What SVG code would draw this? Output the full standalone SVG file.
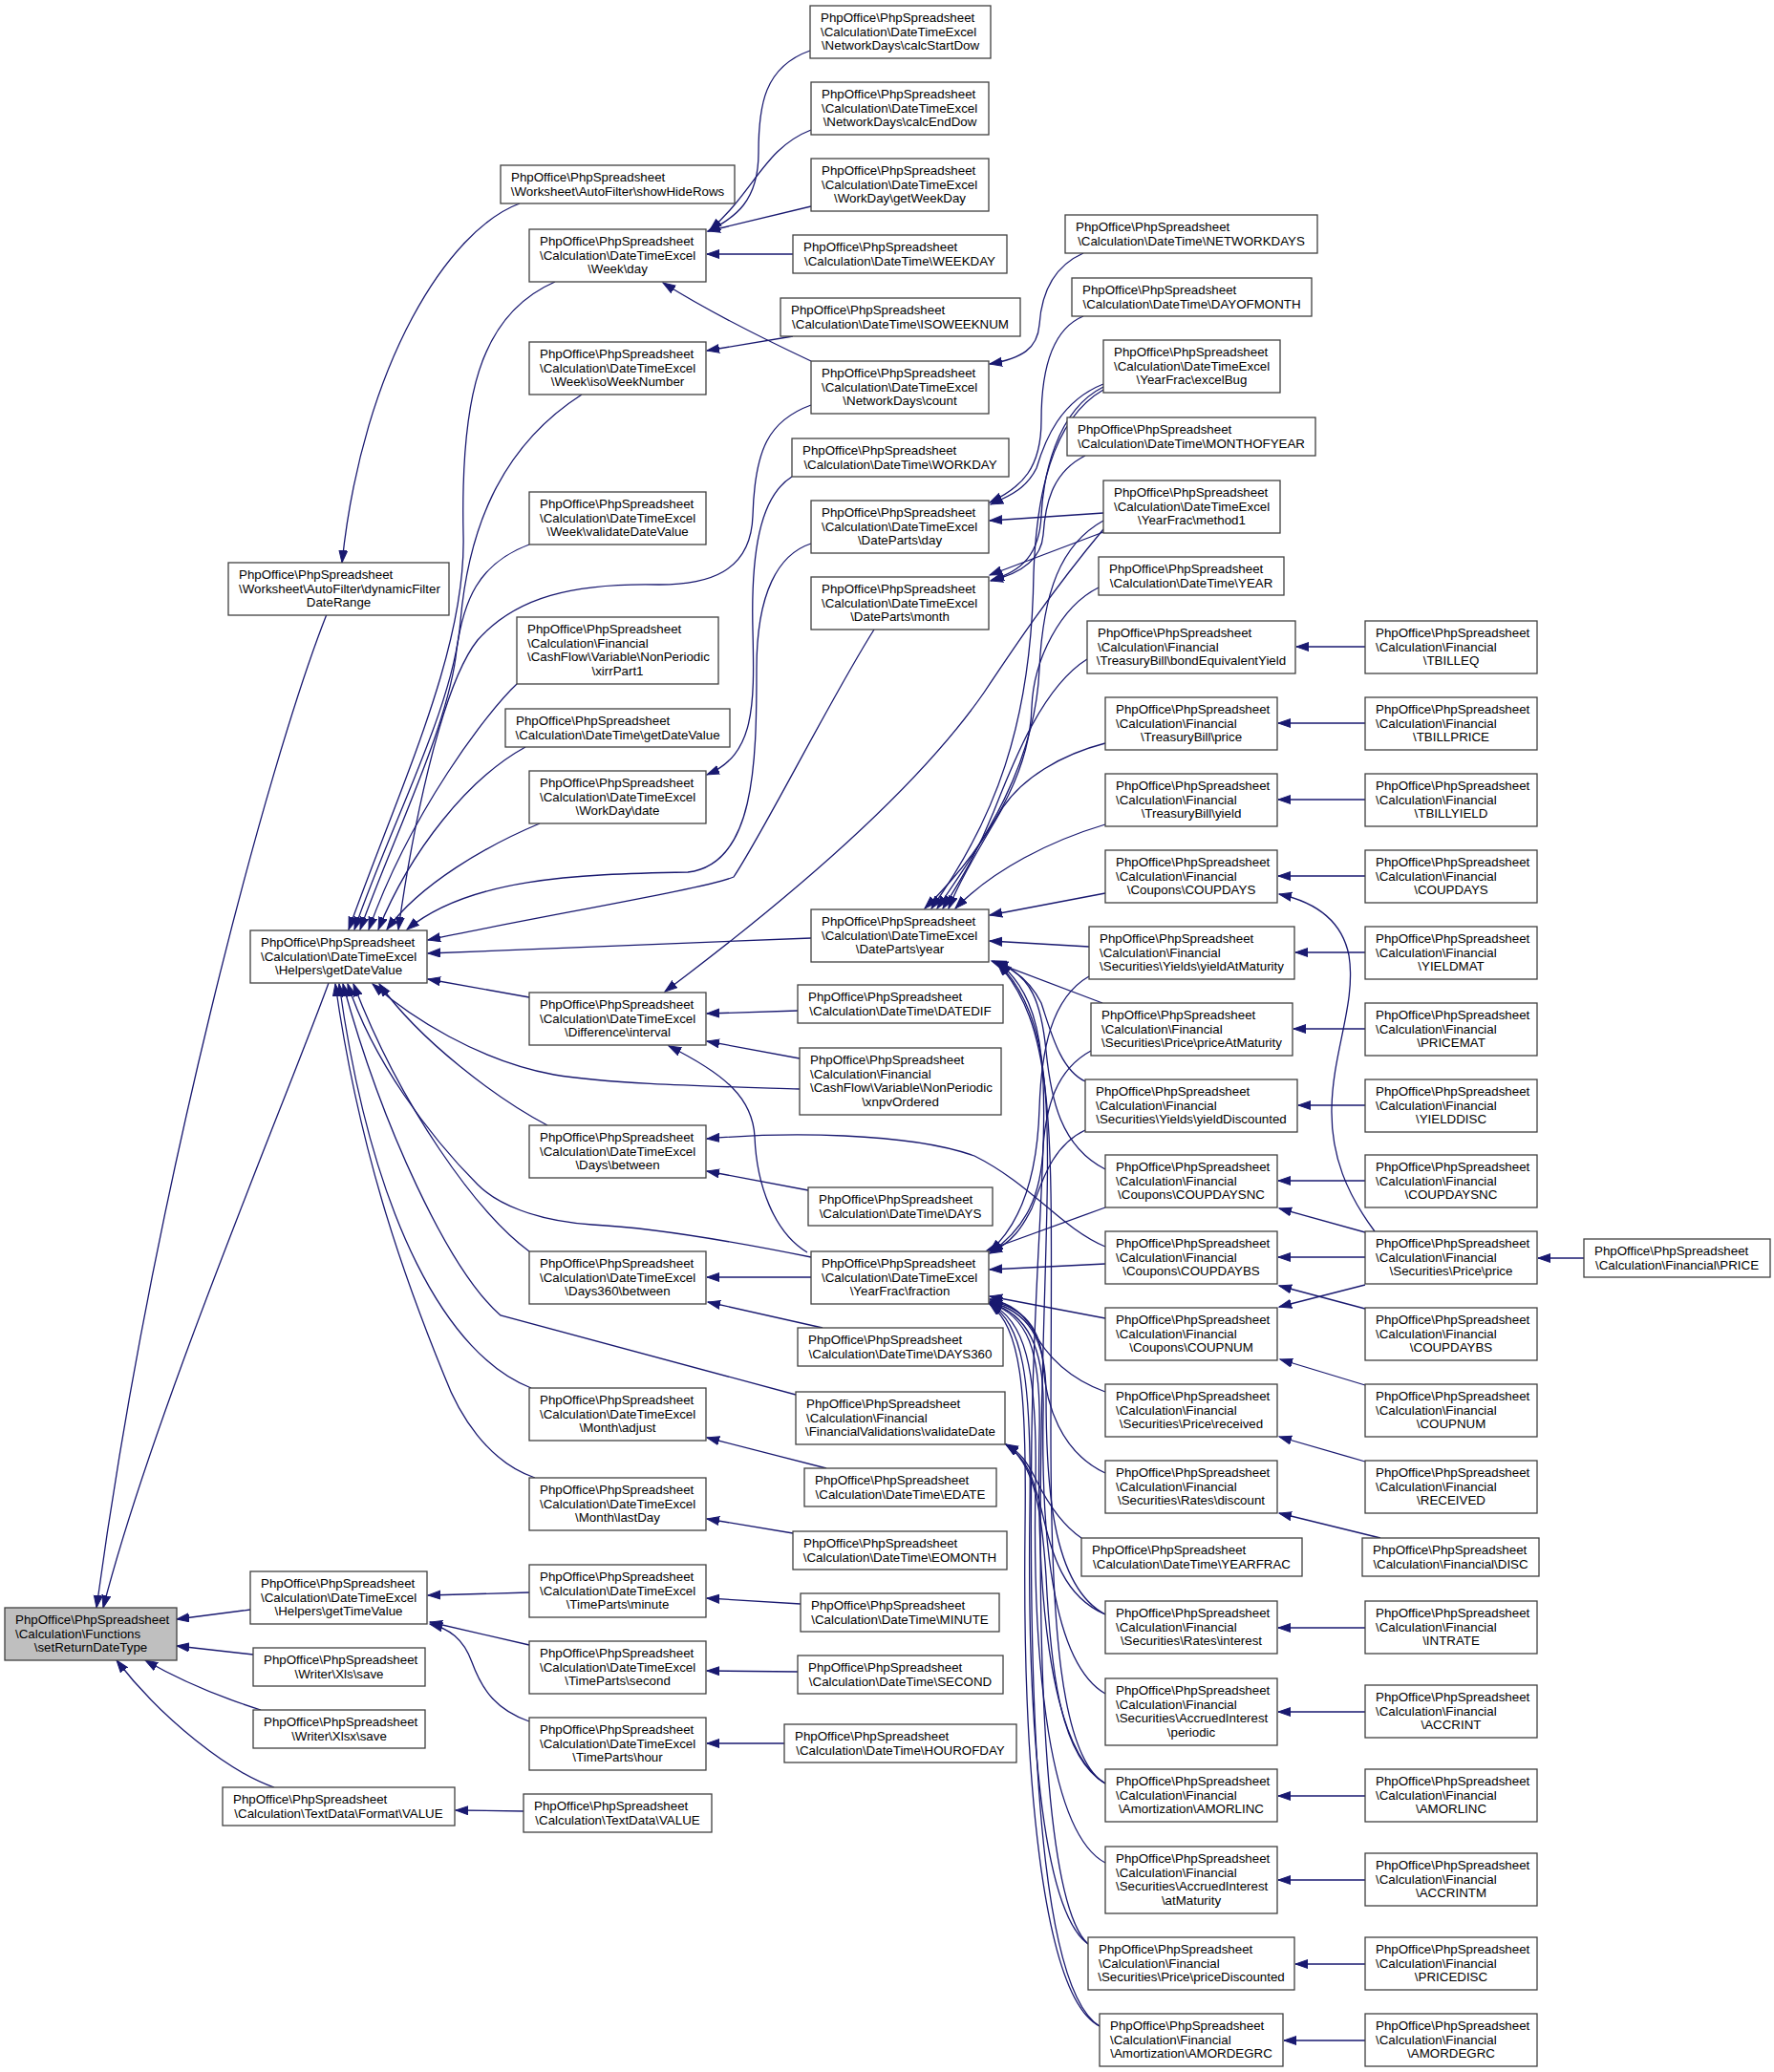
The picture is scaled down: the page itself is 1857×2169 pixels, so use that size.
<svg xmlns="http://www.w3.org/2000/svg" width="1857" height="2169" viewBox="0 0 1857 2169">
<style>
.node rect{fill:#fff;stroke:#404040;stroke-width:1.3}
.root rect{fill:#bfbfbf}
text{font-family:"Liberation Sans",Arial,Helvetica,sans-serif;font-size:13.33px;fill:#000}
.c{text-anchor:middle}
.edges path{fill:none;stroke:#191970;stroke-width:1.3;marker-end:url(#a)}
</style>
<defs>
<marker id="a" markerUnits="userSpaceOnUse" markerWidth="15" markerHeight="11" refX="13" refY="5" orient="auto">
<path d="M0,0.5 L13,5 L0,9.5 z" fill="#191970" stroke="#191970" stroke-width="1"/>
</marker>
</defs>
<rect width="1857" height="2169" fill="#fff"/>
<g class="edges">
<path d="M342,643 C280,800 160,1250 101,1683"/>
<path d="M344,1029 C300,1150 160,1480 108,1683"/>
<path d="M262,1685 L185,1695"/>
<path d="M265,1732 L185,1723"/>
<path d="M273,1790 C235,1778 190,1760 152,1738"/>
<path d="M287,1871 C240,1855 170,1800 122,1738"/>
<path d="M544,213 C470,240 380,380 358,589"/>
<path d="M581,295 C500,330 482,420 485,560 C488,680 420,820 365,973"/>
<path d="M609,413 C520,470 490,560 482,650 C475,740 410,860 371,973"/>
<path d="M554,570 C500,590 485,630 478,680 C470,760 410,880 377,973"/>
<path d="M541,716 C510,745 430,850 386,973"/>
<path d="M550,782 C490,815 430,890 396,973"/>
<path d="M565,862 C510,885 440,925 405,973"/>
<path d="M849,424 C805,440 790,470 788,540 C786,600 740,612 690,612 C600,610 540,625 500,670 C460,720 430,880 417,973"/>
<path d="M829,499 C795,520 786,580 788,660 C790,740 790,790 740,811"/>
<path d="M849,569 C815,580 792,620 792,700 C792,800 790,905 720,913 C600,915 490,920 426,973"/>
<path d="M915,659 C870,730 800,870 768,918 C740,930 560,960 448,984"/>
<path d="M849,982 C700,988 560,993 448,998"/>
<path d="M554,1044 L448,1025"/>
<path d="M837,1140 C740,1137 640,1135 580,1125 C500,1110 430,1065 390,1030"/>
<path d="M573,1178 C520,1150 440,1090 397,1030"/>
<path d="M554,1310 C500,1270 420,1160 370,1030"/>
<path d="M849,1316 C760,1298 680,1285 620,1282 C560,1278 520,1260 500,1240 C450,1190 390,1110 364,1030"/>
<path d="M833,1460 L524,1377 C470,1330 400,1180 359,1030"/>
<path d="M556,1453 C470,1420 390,1280 355,1030"/>
<path d="M560,1547 C510,1530 480,1480 465,1440 C420,1330 375,1200 351,1030"/>
<path d="M848,53 C800,70 794,110 794,160 C794,210 770,228 741,242"/>
<path d="M849,136 C800,155 790,200 743,241"/>
<path d="M849,216 L741,242"/>
<path d="M830,266 L740,266"/>
<path d="M849,378 C800,355 740,325 694,296"/>
<path d="M830,352 L740,367"/>
<path d="M1134,265 C1100,280 1090,310 1088,340 C1086,365 1070,375 1036,381"/>
<path d="M1134,331 C1100,345 1090,390 1090,440 C1090,490 1070,510 1036,526"/>
<path d="M1155,402 C1110,420 1094,460 1085,490 C1075,510 1060,518 1037,528"/>
<path d="M1155,537 L1036,545"/>
<path d="M1136,477 C1100,495 1094,530 1092,560 C1090,585 1070,600 1037,608"/>
<path d="M1155,405 C1105,430 1092,500 1090,540 C1088,580 1070,598 1038,607"/>
<path d="M1155,557 L1036,602"/>
<path d="M1150,615 C1110,635 1082,690 1080,740 C1078,820 1020,900 968,951"/>
<path d="M1155,408 C1100,440 1085,520 1082,600 C1080,760 1040,860 975,951"/>
<path d="M1155,545 C1110,570 1092,620 1088,700 C1084,800 1030,880 981,951"/>
<path d="M1155,554 C1100,620 1060,680 1030,725 C950,840 800,960 696,1038"/>
<path d="M1138,690 C1090,720 1060,800 1040,850 C1020,900 1000,930 987,951"/>
<path d="M1157,778 C1110,790 1070,815 1050,845 C1030,880 1005,920 993,951"/>
<path d="M1157,863 C1100,880 1040,910 1000,951"/>
<path d="M1157,935 L1036,958"/>
<path d="M1140,991 L1036,985"/>
<path d="M1154,1050 L1038,1006"/>
<path d="M1136,1132 C1110,1120 1100,1080 1090,1050 C1080,1030 1065,1015 1040,1006"/>
<path d="M1157,1224 C1110,1200 1100,1150 1095,1100 C1090,1050 1080,1020 1042,1007"/>
<path d="M1157,1867 C1110,1840 1100,1700 1100,1500 C1100,1200 1110,1080 1044,1008"/>
<path d="M1139,2035 C1100,2000 1085,1800 1090,1500 C1095,1200 1115,1080 1045,1008"/>
<path d="M1151,2121 C1100,2090 1075,1900 1080,1500 C1085,1200 1120,1070 1046,1008"/>
<path d="M1140,1022 C1100,1045 1090,1100 1088,1160 C1086,1230 1070,1280 1036,1310"/>
<path d="M1142,1100 C1105,1120 1095,1160 1092,1200 C1090,1250 1075,1285 1037,1311"/>
<path d="M1136,1183 C1100,1200 1090,1240 1080,1265 C1070,1285 1060,1300 1036,1312"/>
<path d="M1157,1264 L1033,1309"/>
<path d="M1157,1323 L1036,1329"/>
<path d="M1157,1380 L1036,1357"/>
<path d="M1157,1457 C1110,1440 1090,1410 1080,1390 C1070,1375 1060,1365 1036,1360"/>
<path d="M1157,1542 C1110,1520 1095,1470 1092,1430 C1090,1390 1070,1368 1036,1362"/>
<path d="M1157,1690 C1100,1660 1095,1550 1095,1460 C1095,1400 1075,1372 1036,1363"/>
<path d="M1157,1773 C1100,1740 1090,1600 1092,1480 C1094,1410 1075,1375 1036,1364"/>
<path d="M1157,1867 C1095,1830 1085,1650 1088,1500 C1090,1410 1075,1378 1036,1364"/>
<path d="M1157,1950 C1100,1920 1080,1750 1084,1550 C1086,1430 1072,1380 1036,1365"/>
<path d="M1139,2035 C1090,2000 1075,1800 1078,1580 C1080,1440 1070,1385 1036,1365"/>
<path d="M1151,2121 C1090,2090 1070,1850 1073,1600 C1075,1450 1068,1390 1036,1365"/>
<path d="M1132,1610 C1110,1595 1095,1570 1085,1550 C1075,1530 1068,1520 1053,1512"/>
<path d="M1157,1690 C1110,1670 1100,1620 1090,1580 C1080,1540 1072,1525 1053,1512"/>
<path d="M1157,1867 C1110,1840 1100,1750 1095,1650 C1090,1570 1080,1530 1053,1512"/>
<path d="M835,1058 L740,1061"/>
<path d="M837,1108 L740,1090"/>
<path d="M845,1311 C810,1290 792,1240 790,1190 C788,1150 760,1125 700,1095"/>
<path d="M846,1246 L740,1226"/>
<path d="M1157,1305 C1110,1285 1080,1240 1020,1210 C950,1185 820,1185 740,1192"/>
<path d="M849,1337 L740,1337"/>
<path d="M861,1390 L741,1363"/>
<path d="M865,1537 L740,1505"/>
<path d="M830,1605 L740,1590"/>
<path d="M838,1679 L740,1673"/>
<path d="M835,1750 L740,1749"/>
<path d="M821,1825 L740,1825"/>
<path d="M554,1667 L448,1670"/>
<path d="M554,1722 L450,1698"/>
<path d="M554,1802 C520,1790 505,1770 494,1740 C485,1715 470,1705 450,1700"/>
<path d="M548,1896 L477,1895"/>
<path d="M1429,677 L1357,677"/>
<path d="M1429,757 L1338,757"/>
<path d="M1429,837 L1338,837"/>
<path d="M1429,917 L1338,917"/>
<path d="M1429,997 L1356,997"/>
<path d="M1429,1077 L1354,1077"/>
<path d="M1429,1157 L1359,1157"/>
<path d="M1429,1236 L1338,1236"/>
<path d="M1429,1316 L1338,1316"/>
<path d="M1429,1370 L1339,1346"/>
<path d="M1429,1345 L1339,1368"/>
<path d="M1429,1290 L1339,1265"/>
<path d="M1439,1289 C1410,1250 1393,1210 1394,1160 C1395,1100 1420,1050 1412,1000 C1405,965 1380,945 1339,936"/>
<path d="M1429,1450 L1340,1423"/>
<path d="M1429,1530 L1339,1504"/>
<path d="M1445,1610 L1339,1584"/>
<path d="M1429,1704 L1338,1704"/>
<path d="M1429,1792 L1338,1792"/>
<path d="M1429,1880 L1338,1880"/>
<path d="M1429,1968 L1338,1968"/>
<path d="M1429,2056 L1356,2056"/>
<path d="M1429,2136 L1344,2136"/>
<path d="M1658,1317 L1610,1317"/>
</g>
<g id="n0" class="node root" transform="translate(5,1683)"><rect width="180" height="55"/><text x="11" y="17">PhpOffice\PhpSpreadsheet</text><text x="11" y="31.7">\Calculation\Functions</text><text class="c" x="90" y="46.3">\setReturnDateType</text></g>
<g id="n1" class="node" transform="translate(239,589)"><rect width="231" height="55"/><text x="11" y="17">PhpOffice\PhpSpreadsheet</text><text x="11" y="31.7">\Worksheet\AutoFilter\dynamicFilter</text><text class="c" x="115.5" y="46.3">DateRange</text></g>
<g id="n2" class="node" transform="translate(262,974)"><rect width="185" height="55"/><text x="11" y="17">PhpOffice\PhpSpreadsheet</text><text x="11" y="31.7">\Calculation\DateTimeExcel</text><text class="c" x="92.5" y="46.3">\Helpers\getDateValue</text></g>
<g id="n3" class="node" transform="translate(262,1645)"><rect width="185" height="55"/><text x="11" y="17">PhpOffice\PhpSpreadsheet</text><text x="11" y="31.7">\Calculation\DateTimeExcel</text><text class="c" x="92.5" y="46.3">\Helpers\getTimeValue</text></g>
<g id="n4" class="node" transform="translate(265,1725)"><rect width="180" height="40"/><text x="11" y="17">PhpOffice\PhpSpreadsheet</text><text class="c" x="90" y="31.7">\Writer\Xls\save</text></g>
<g id="n5" class="node" transform="translate(265,1790)"><rect width="180" height="40"/><text x="11" y="17">PhpOffice\PhpSpreadsheet</text><text class="c" x="90" y="31.7">\Writer\Xlsx\save</text></g>
<g id="n6" class="node" transform="translate(233,1871)"><rect width="243" height="40"/><text x="11" y="17">PhpOffice\PhpSpreadsheet</text><text class="c" x="121.5" y="31.7">\Calculation\TextData\Format\VALUE</text></g>
<g id="n7" class="node" transform="translate(524,173)"><rect width="245" height="40"/><text x="11" y="17">PhpOffice\PhpSpreadsheet</text><text class="c" x="122.5" y="31.7">\Worksheet\AutoFilter\showHideRows</text></g>
<g id="n8" class="node" transform="translate(554,240)"><rect width="185" height="55"/><text x="11" y="17">PhpOffice\PhpSpreadsheet</text><text x="11" y="31.7">\Calculation\DateTimeExcel</text><text class="c" x="92.5" y="46.3">\Week\day</text></g>
<g id="n9" class="node" transform="translate(554,358)"><rect width="185" height="55"/><text x="11" y="17">PhpOffice\PhpSpreadsheet</text><text x="11" y="31.7">\Calculation\DateTimeExcel</text><text class="c" x="92.5" y="46.3">\Week\isoWeekNumber</text></g>
<g id="n10" class="node" transform="translate(554,515)"><rect width="185" height="55"/><text x="11" y="17">PhpOffice\PhpSpreadsheet</text><text x="11" y="31.7">\Calculation\DateTimeExcel</text><text class="c" x="92.5" y="46.3">\Week\validateDateValue</text></g>
<g id="n11" class="node" transform="translate(541,646)"><rect width="211" height="70"/><text x="11" y="17">PhpOffice\PhpSpreadsheet</text><text x="11" y="31.7">\Calculation\Financial</text><text x="11" y="46.3">\CashFlow\Variable\NonPeriodic</text><text class="c" x="105.5" y="61">\xirrPart1</text></g>
<g id="n12" class="node" transform="translate(529,742)"><rect width="235" height="40"/><text x="11" y="17">PhpOffice\PhpSpreadsheet</text><text class="c" x="117.5" y="31.7">\Calculation\DateTime\getDateValue</text></g>
<g id="n13" class="node" transform="translate(554,807)"><rect width="185" height="55"/><text x="11" y="17">PhpOffice\PhpSpreadsheet</text><text x="11" y="31.7">\Calculation\DateTimeExcel</text><text class="c" x="92.5" y="46.3">\WorkDay\date</text></g>
<g id="n14" class="node" transform="translate(554,1039)"><rect width="185" height="55"/><text x="11" y="17">PhpOffice\PhpSpreadsheet</text><text x="11" y="31.7">\Calculation\DateTimeExcel</text><text class="c" x="92.5" y="46.3">\Difference\interval</text></g>
<g id="n15" class="node" transform="translate(554,1178)"><rect width="185" height="55"/><text x="11" y="17">PhpOffice\PhpSpreadsheet</text><text x="11" y="31.7">\Calculation\DateTimeExcel</text><text class="c" x="92.5" y="46.3">\Days\between</text></g>
<g id="n16" class="node" transform="translate(554,1310)"><rect width="185" height="55"/><text x="11" y="17">PhpOffice\PhpSpreadsheet</text><text x="11" y="31.7">\Calculation\DateTimeExcel</text><text class="c" x="92.5" y="46.3">\Days360\between</text></g>
<g id="n17" class="node" transform="translate(554,1453)"><rect width="185" height="55"/><text x="11" y="17">PhpOffice\PhpSpreadsheet</text><text x="11" y="31.7">\Calculation\DateTimeExcel</text><text class="c" x="92.5" y="46.3">\Month\adjust</text></g>
<g id="n18" class="node" transform="translate(554,1547)"><rect width="185" height="55"/><text x="11" y="17">PhpOffice\PhpSpreadsheet</text><text x="11" y="31.7">\Calculation\DateTimeExcel</text><text class="c" x="92.5" y="46.3">\Month\lastDay</text></g>
<g id="n19" class="node" transform="translate(554,1638)"><rect width="185" height="55"/><text x="11" y="17">PhpOffice\PhpSpreadsheet</text><text x="11" y="31.7">\Calculation\DateTimeExcel</text><text class="c" x="92.5" y="46.3">\TimeParts\minute</text></g>
<g id="n20" class="node" transform="translate(554,1718)"><rect width="185" height="55"/><text x="11" y="17">PhpOffice\PhpSpreadsheet</text><text x="11" y="31.7">\Calculation\DateTimeExcel</text><text class="c" x="92.5" y="46.3">\TimeParts\second</text></g>
<g id="n21" class="node" transform="translate(554,1798)"><rect width="185" height="55"/><text x="11" y="17">PhpOffice\PhpSpreadsheet</text><text x="11" y="31.7">\Calculation\DateTimeExcel</text><text class="c" x="92.5" y="46.3">\TimeParts\hour</text></g>
<g id="n22" class="node" transform="translate(548,1878)"><rect width="197" height="40"/><text x="11" y="17">PhpOffice\PhpSpreadsheet</text><text class="c" x="98.5" y="31.7">\Calculation\TextData\VALUE</text></g>
<g id="n23" class="node" transform="translate(848,6)"><rect width="189" height="55"/><text x="11" y="17">PhpOffice\PhpSpreadsheet</text><text x="11" y="31.7">\Calculation\DateTimeExcel</text><text class="c" x="94.5" y="46.3">\NetworkDays\calcStartDow</text></g>
<g id="n24" class="node" transform="translate(849,86)"><rect width="186" height="55"/><text x="11" y="17">PhpOffice\PhpSpreadsheet</text><text x="11" y="31.7">\Calculation\DateTimeExcel</text><text class="c" x="93" y="46.3">\NetworkDays\calcEndDow</text></g>
<g id="n25" class="node" transform="translate(849,166)"><rect width="186" height="55"/><text x="11" y="17">PhpOffice\PhpSpreadsheet</text><text x="11" y="31.7">\Calculation\DateTimeExcel</text><text class="c" x="93" y="46.3">\WorkDay\getWeekDay</text></g>
<g id="n26" class="node" transform="translate(830,246)"><rect width="224" height="40"/><text x="11" y="17">PhpOffice\PhpSpreadsheet</text><text class="c" x="112" y="31.7">\Calculation\DateTime\WEEKDAY</text></g>
<g id="n27" class="node" transform="translate(817,312)"><rect width="251" height="40"/><text x="11" y="17">PhpOffice\PhpSpreadsheet</text><text class="c" x="125.5" y="31.7">\Calculation\DateTime\ISOWEEKNUM</text></g>
<g id="n28" class="node" transform="translate(849,378)"><rect width="186" height="55"/><text x="11" y="17">PhpOffice\PhpSpreadsheet</text><text x="11" y="31.7">\Calculation\DateTimeExcel</text><text class="c" x="93" y="46.3">\NetworkDays\count</text></g>
<g id="n29" class="node" transform="translate(829,459)"><rect width="227" height="40"/><text x="11" y="17">PhpOffice\PhpSpreadsheet</text><text class="c" x="113.5" y="31.7">\Calculation\DateTime\WORKDAY</text></g>
<g id="n30" class="node" transform="translate(849,524)"><rect width="186" height="55"/><text x="11" y="17">PhpOffice\PhpSpreadsheet</text><text x="11" y="31.7">\Calculation\DateTimeExcel</text><text class="c" x="93" y="46.3">\DateParts\day</text></g>
<g id="n31" class="node" transform="translate(849,604)"><rect width="186" height="55"/><text x="11" y="17">PhpOffice\PhpSpreadsheet</text><text x="11" y="31.7">\Calculation\DateTimeExcel</text><text class="c" x="93" y="46.3">\DateParts\month</text></g>
<g id="n32" class="node" transform="translate(849,952)"><rect width="186" height="55"/><text x="11" y="17">PhpOffice\PhpSpreadsheet</text><text x="11" y="31.7">\Calculation\DateTimeExcel</text><text class="c" x="93" y="46.3">\DateParts\year</text></g>
<g id="n33" class="node" transform="translate(835,1031)"><rect width="215" height="40"/><text x="11" y="17">PhpOffice\PhpSpreadsheet</text><text class="c" x="107.5" y="31.7">\Calculation\DateTime\DATEDIF</text></g>
<g id="n34" class="node" transform="translate(837,1097)"><rect width="211" height="70"/><text x="11" y="17">PhpOffice\PhpSpreadsheet</text><text x="11" y="31.7">\Calculation\Financial</text><text x="11" y="46.3">\CashFlow\Variable\NonPeriodic</text><text class="c" x="105.5" y="61">\xnpvOrdered</text></g>
<g id="n35" class="node" transform="translate(846,1243)"><rect width="193" height="40"/><text x="11" y="17">PhpOffice\PhpSpreadsheet</text><text class="c" x="96.5" y="31.7">\Calculation\DateTime\DAYS</text></g>
<g id="n36" class="node" transform="translate(849,1310)"><rect width="186" height="55"/><text x="11" y="17">PhpOffice\PhpSpreadsheet</text><text x="11" y="31.7">\Calculation\DateTimeExcel</text><text class="c" x="93" y="46.3">\YearFrac\fraction</text></g>
<g id="n37" class="node" transform="translate(835,1390)"><rect width="215" height="40"/><text x="11" y="17">PhpOffice\PhpSpreadsheet</text><text class="c" x="107.5" y="31.7">\Calculation\DateTime\DAYS360</text></g>
<g id="n38" class="node" transform="translate(833,1457)"><rect width="219" height="55"/><text x="11" y="17">PhpOffice\PhpSpreadsheet</text><text x="11" y="31.7">\Calculation\Financial</text><text class="c" x="109.5" y="46.3">\FinancialValidations\validateDate</text></g>
<g id="n39" class="node" transform="translate(842,1537)"><rect width="201" height="40"/><text x="11" y="17">PhpOffice\PhpSpreadsheet</text><text class="c" x="100.5" y="31.7">\Calculation\DateTime\EDATE</text></g>
<g id="n40" class="node" transform="translate(830,1603)"><rect width="224" height="40"/><text x="11" y="17">PhpOffice\PhpSpreadsheet</text><text class="c" x="112" y="31.7">\Calculation\DateTime\EOMONTH</text></g>
<g id="n41" class="node" transform="translate(838,1668)"><rect width="208" height="40"/><text x="11" y="17">PhpOffice\PhpSpreadsheet</text><text class="c" x="104" y="31.7">\Calculation\DateTime\MINUTE</text></g>
<g id="n42" class="node" transform="translate(835,1733)"><rect width="215" height="40"/><text x="11" y="17">PhpOffice\PhpSpreadsheet</text><text class="c" x="107.5" y="31.7">\Calculation\DateTime\SECOND</text></g>
<g id="n43" class="node" transform="translate(821,1805)"><rect width="243" height="40"/><text x="11" y="17">PhpOffice\PhpSpreadsheet</text><text class="c" x="121.5" y="31.7">\Calculation\DateTime\HOUROFDAY</text></g>
<g id="n44" class="node" transform="translate(1115,225)"><rect width="264" height="40"/><text x="11" y="17">PhpOffice\PhpSpreadsheet</text><text class="c" x="132" y="31.7">\Calculation\DateTime\NETWORKDAYS</text></g>
<g id="n45" class="node" transform="translate(1122,291)"><rect width="251" height="40"/><text x="11" y="17">PhpOffice\PhpSpreadsheet</text><text class="c" x="125.5" y="31.7">\Calculation\DateTime\DAYOFMONTH</text></g>
<g id="n46" class="node" transform="translate(1155,356)"><rect width="185" height="55"/><text x="11" y="17">PhpOffice\PhpSpreadsheet</text><text x="11" y="31.7">\Calculation\DateTimeExcel</text><text class="c" x="92.5" y="46.3">\YearFrac\excelBug</text></g>
<g id="n47" class="node" transform="translate(1117,437)"><rect width="260" height="40"/><text x="11" y="17">PhpOffice\PhpSpreadsheet</text><text class="c" x="130" y="31.7">\Calculation\DateTime\MONTHOFYEAR</text></g>
<g id="n48" class="node" transform="translate(1155,503)"><rect width="185" height="55"/><text x="11" y="17">PhpOffice\PhpSpreadsheet</text><text x="11" y="31.7">\Calculation\DateTimeExcel</text><text class="c" x="92.5" y="46.3">\YearFrac\method1</text></g>
<g id="n49" class="node" transform="translate(1150,583)"><rect width="194" height="40"/><text x="11" y="17">PhpOffice\PhpSpreadsheet</text><text class="c" x="97" y="31.7">\Calculation\DateTime\YEAR</text></g>
<g id="n50" class="node" transform="translate(1138,650)"><rect width="218" height="55"/><text x="11" y="17">PhpOffice\PhpSpreadsheet</text><text x="11" y="31.7">\Calculation\Financial</text><text class="c" x="109" y="46.3">\TreasuryBill\bondEquivalentYield</text></g>
<g id="n51" class="node" transform="translate(1157,730)"><rect width="180" height="55"/><text x="11" y="17">PhpOffice\PhpSpreadsheet</text><text x="11" y="31.7">\Calculation\Financial</text><text class="c" x="90" y="46.3">\TreasuryBill\price</text></g>
<g id="n52" class="node" transform="translate(1157,810)"><rect width="180" height="55"/><text x="11" y="17">PhpOffice\PhpSpreadsheet</text><text x="11" y="31.7">\Calculation\Financial</text><text class="c" x="90" y="46.3">\TreasuryBill\yield</text></g>
<g id="n53" class="node" transform="translate(1157,890)"><rect width="180" height="55"/><text x="11" y="17">PhpOffice\PhpSpreadsheet</text><text x="11" y="31.7">\Calculation\Financial</text><text class="c" x="90" y="46.3">\Coupons\COUPDAYS</text></g>
<g id="n54" class="node" transform="translate(1140,970)"><rect width="215" height="55"/><text x="11" y="17">PhpOffice\PhpSpreadsheet</text><text x="11" y="31.7">\Calculation\Financial</text><text class="c" x="107.5" y="46.3">\Securities\Yields\yieldAtMaturity</text></g>
<g id="n55" class="node" transform="translate(1142,1050)"><rect width="211" height="55"/><text x="11" y="17">PhpOffice\PhpSpreadsheet</text><text x="11" y="31.7">\Calculation\Financial</text><text class="c" x="105.5" y="46.3">\Securities\Price\priceAtMaturity</text></g>
<g id="n56" class="node" transform="translate(1136,1130)"><rect width="222" height="55"/><text x="11" y="17">PhpOffice\PhpSpreadsheet</text><text x="11" y="31.7">\Calculation\Financial</text><text class="c" x="111" y="46.3">\Securities\Yields\yieldDiscounted</text></g>
<g id="n57" class="node" transform="translate(1157,1209)"><rect width="180" height="55"/><text x="11" y="17">PhpOffice\PhpSpreadsheet</text><text x="11" y="31.7">\Calculation\Financial</text><text class="c" x="90" y="46.3">\Coupons\COUPDAYSNC</text></g>
<g id="n58" class="node" transform="translate(1157,1289)"><rect width="180" height="55"/><text x="11" y="17">PhpOffice\PhpSpreadsheet</text><text x="11" y="31.7">\Calculation\Financial</text><text class="c" x="90" y="46.3">\Coupons\COUPDAYBS</text></g>
<g id="n59" class="node" transform="translate(1157,1369)"><rect width="180" height="55"/><text x="11" y="17">PhpOffice\PhpSpreadsheet</text><text x="11" y="31.7">\Calculation\Financial</text><text class="c" x="90" y="46.3">\Coupons\COUPNUM</text></g>
<g id="n60" class="node" transform="translate(1157,1449)"><rect width="180" height="55"/><text x="11" y="17">PhpOffice\PhpSpreadsheet</text><text x="11" y="31.7">\Calculation\Financial</text><text class="c" x="90" y="46.3">\Securities\Price\received</text></g>
<g id="n61" class="node" transform="translate(1157,1529)"><rect width="180" height="55"/><text x="11" y="17">PhpOffice\PhpSpreadsheet</text><text x="11" y="31.7">\Calculation\Financial</text><text class="c" x="90" y="46.3">\Securities\Rates\discount</text></g>
<g id="n62" class="node" transform="translate(1132,1610)"><rect width="231" height="40"/><text x="11" y="17">PhpOffice\PhpSpreadsheet</text><text class="c" x="115.5" y="31.7">\Calculation\DateTime\YEARFRAC</text></g>
<g id="n63" class="node" transform="translate(1157,1676)"><rect width="180" height="55"/><text x="11" y="17">PhpOffice\PhpSpreadsheet</text><text x="11" y="31.7">\Calculation\Financial</text><text class="c" x="90" y="46.3">\Securities\Rates\interest</text></g>
<g id="n64" class="node" transform="translate(1157,1757)"><rect width="180" height="70"/><text x="11" y="17">PhpOffice\PhpSpreadsheet</text><text x="11" y="31.7">\Calculation\Financial</text><text x="11" y="46.3">\Securities\AccruedInterest</text><text class="c" x="90" y="61">\periodic</text></g>
<g id="n65" class="node" transform="translate(1157,1852)"><rect width="180" height="55"/><text x="11" y="17">PhpOffice\PhpSpreadsheet</text><text x="11" y="31.7">\Calculation\Financial</text><text class="c" x="90" y="46.3">\Amortization\AMORLINC</text></g>
<g id="n66" class="node" transform="translate(1157,1933)"><rect width="180" height="70"/><text x="11" y="17">PhpOffice\PhpSpreadsheet</text><text x="11" y="31.7">\Calculation\Financial</text><text x="11" y="46.3">\Securities\AccruedInterest</text><text class="c" x="90" y="61">\atMaturity</text></g>
<g id="n67" class="node" transform="translate(1139,2028)"><rect width="216" height="55"/><text x="11" y="17">PhpOffice\PhpSpreadsheet</text><text x="11" y="31.7">\Calculation\Financial</text><text class="c" x="108" y="46.3">\Securities\Price\priceDiscounted</text></g>
<g id="n68" class="node" transform="translate(1151,2108)"><rect width="192" height="55"/><text x="11" y="17">PhpOffice\PhpSpreadsheet</text><text x="11" y="31.7">\Calculation\Financial</text><text class="c" x="96" y="46.3">\Amortization\AMORDEGRC</text></g>
<g id="n69" class="node" transform="translate(1429,650)"><rect width="180" height="55"/><text x="11" y="17">PhpOffice\PhpSpreadsheet</text><text x="11" y="31.7">\Calculation\Financial</text><text class="c" x="90" y="46.3">\TBILLEQ</text></g>
<g id="n70" class="node" transform="translate(1429,730)"><rect width="180" height="55"/><text x="11" y="17">PhpOffice\PhpSpreadsheet</text><text x="11" y="31.7">\Calculation\Financial</text><text class="c" x="90" y="46.3">\TBILLPRICE</text></g>
<g id="n71" class="node" transform="translate(1429,810)"><rect width="180" height="55"/><text x="11" y="17">PhpOffice\PhpSpreadsheet</text><text x="11" y="31.7">\Calculation\Financial</text><text class="c" x="90" y="46.3">\TBILLYIELD</text></g>
<g id="n72" class="node" transform="translate(1429,890)"><rect width="180" height="55"/><text x="11" y="17">PhpOffice\PhpSpreadsheet</text><text x="11" y="31.7">\Calculation\Financial</text><text class="c" x="90" y="46.3">\COUPDAYS</text></g>
<g id="n73" class="node" transform="translate(1429,970)"><rect width="180" height="55"/><text x="11" y="17">PhpOffice\PhpSpreadsheet</text><text x="11" y="31.7">\Calculation\Financial</text><text class="c" x="90" y="46.3">\YIELDMAT</text></g>
<g id="n74" class="node" transform="translate(1429,1050)"><rect width="180" height="55"/><text x="11" y="17">PhpOffice\PhpSpreadsheet</text><text x="11" y="31.7">\Calculation\Financial</text><text class="c" x="90" y="46.3">\PRICEMAT</text></g>
<g id="n75" class="node" transform="translate(1429,1130)"><rect width="180" height="55"/><text x="11" y="17">PhpOffice\PhpSpreadsheet</text><text x="11" y="31.7">\Calculation\Financial</text><text class="c" x="90" y="46.3">\YIELDDISC</text></g>
<g id="n76" class="node" transform="translate(1429,1209)"><rect width="180" height="55"/><text x="11" y="17">PhpOffice\PhpSpreadsheet</text><text x="11" y="31.7">\Calculation\Financial</text><text class="c" x="90" y="46.3">\COUPDAYSNC</text></g>
<g id="n77" class="node" transform="translate(1429,1289)"><rect width="180" height="55"/><text x="11" y="17">PhpOffice\PhpSpreadsheet</text><text x="11" y="31.7">\Calculation\Financial</text><text class="c" x="90" y="46.3">\Securities\Price\price</text></g>
<g id="n78" class="node" transform="translate(1429,1369)"><rect width="180" height="55"/><text x="11" y="17">PhpOffice\PhpSpreadsheet</text><text x="11" y="31.7">\Calculation\Financial</text><text class="c" x="90" y="46.3">\COUPDAYBS</text></g>
<g id="n79" class="node" transform="translate(1429,1449)"><rect width="180" height="55"/><text x="11" y="17">PhpOffice\PhpSpreadsheet</text><text x="11" y="31.7">\Calculation\Financial</text><text class="c" x="90" y="46.3">\COUPNUM</text></g>
<g id="n80" class="node" transform="translate(1429,1529)"><rect width="180" height="55"/><text x="11" y="17">PhpOffice\PhpSpreadsheet</text><text x="11" y="31.7">\Calculation\Financial</text><text class="c" x="90" y="46.3">\RECEIVED</text></g>
<g id="n81" class="node" transform="translate(1426,1610)"><rect width="185" height="40"/><text x="11" y="17">PhpOffice\PhpSpreadsheet</text><text class="c" x="92.5" y="31.7">\Calculation\Financial\DISC</text></g>
<g id="n82" class="node" transform="translate(1429,1676)"><rect width="180" height="55"/><text x="11" y="17">PhpOffice\PhpSpreadsheet</text><text x="11" y="31.7">\Calculation\Financial</text><text class="c" x="90" y="46.3">\INTRATE</text></g>
<g id="n83" class="node" transform="translate(1429,1764)"><rect width="180" height="55"/><text x="11" y="17">PhpOffice\PhpSpreadsheet</text><text x="11" y="31.7">\Calculation\Financial</text><text class="c" x="90" y="46.3">\ACCRINT</text></g>
<g id="n84" class="node" transform="translate(1429,1852)"><rect width="180" height="55"/><text x="11" y="17">PhpOffice\PhpSpreadsheet</text><text x="11" y="31.7">\Calculation\Financial</text><text class="c" x="90" y="46.3">\AMORLINC</text></g>
<g id="n85" class="node" transform="translate(1429,1940)"><rect width="180" height="55"/><text x="11" y="17">PhpOffice\PhpSpreadsheet</text><text x="11" y="31.7">\Calculation\Financial</text><text class="c" x="90" y="46.3">\ACCRINTM</text></g>
<g id="n86" class="node" transform="translate(1429,2028)"><rect width="180" height="55"/><text x="11" y="17">PhpOffice\PhpSpreadsheet</text><text x="11" y="31.7">\Calculation\Financial</text><text class="c" x="90" y="46.3">\PRICEDISC</text></g>
<g id="n87" class="node" transform="translate(1429,2108)"><rect width="180" height="55"/><text x="11" y="17">PhpOffice\PhpSpreadsheet</text><text x="11" y="31.7">\Calculation\Financial</text><text class="c" x="90" y="46.3">\AMORDEGRC</text></g>
<g id="n88" class="node" transform="translate(1658,1297)"><rect width="195" height="40"/><text x="11" y="17">PhpOffice\PhpSpreadsheet</text><text class="c" x="97.5" y="31.7">\Calculation\Financial\PRICE</text></g>
</svg>
